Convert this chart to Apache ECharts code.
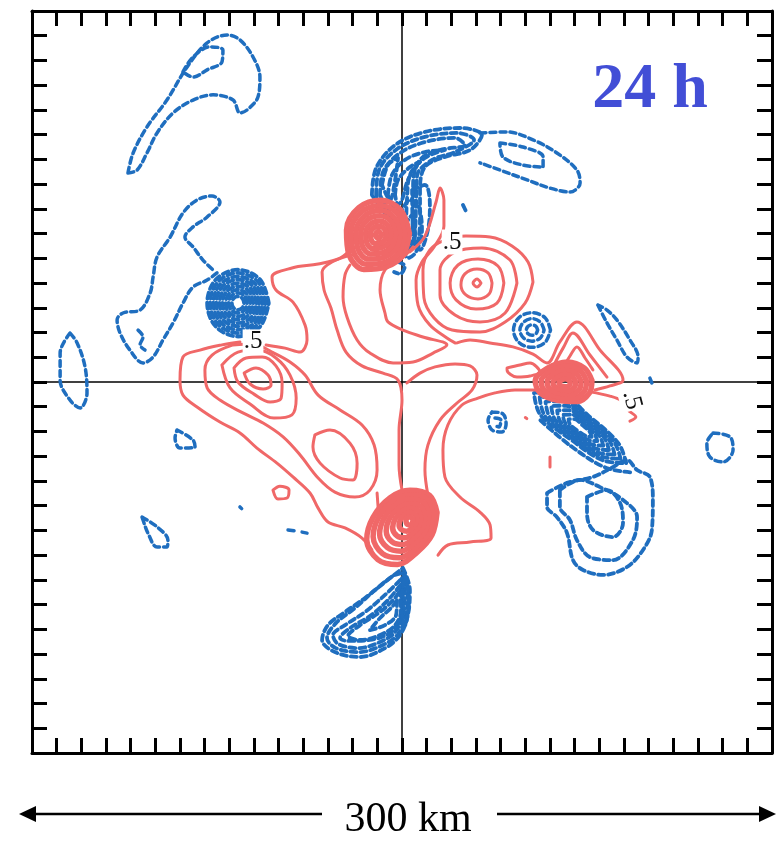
<!DOCTYPE html>
<html><head><meta charset="utf-8">
<script src="https://cdn.jsdelivr.net/npm/echarts@6/dist/echarts.min.js"></script>
<style>html,body{margin:0;padding:0;background:#fff}#c{width:778px;height:841px}</style>
</head><body><div id="c"></div>
<script>
// ---- axis ----
const axisMin = -150, axisMax = 150, tickStep = 10; // km
// ---- contour labels (km, rotation deg) ----
const labelPoints = [[-60.4,16.2,0],[20.3,56.6,0],[93.2,-7.3,-75]];
// ---- positive (red, solid) contours, km ----
const redLeftOuter = [[-65.7,16.2],[-73.0,15.0],[-81.9,12.9],[-88.8,10.1],[-90.0,0.8],[-88.8,-5.3],[-83.1,-10.1],[-73.8,-16.2],[-65.7,-20.6],[-58.8,-26.7],[-50.7,-32.8],[-44.2,-38.4],[-37.3,-44.9],[-34.0,-51.0],[-30.0,-56.6],[-23.1,-59.0],[-16.2,-63.1],[-12.2,-67.9]];
const redTongue = [[-55.1,15.0],[-47.4,13.7],[-41.3,12.1],[-38.5,17.0],[-39.3,23.0],[-44.2,32.3],[-51.1,37.2],[-52.7,42.5],[-44.6,46.1],[-34.0,47.7],[-25.1,50.1],[-20.3,54.2]];
const redLeftRings = [
 [[-68.5,15.0],[-77.0,10.9],[-79.9,4.9],[-79.0,-2.4],[-73.8,-7.3],[-64.5,-12.5],[-56.3,-16.6],[-48.2,-22.2],[-41.3,-29.5],[-34.0,-38.8],[-27.2,-44.5],[-19.1,-46.5],[-13.0,-43.7],[-10.1,-35.6],[-11.3,-25.5],[-16.2,-17.4],[-25.1,-11.3],[-34.0,-5.3],[-39.3,2.8],[-45.4,8.1],[-52.7,12.1],[-60.4,15.4],[-68.5,15.0]],
 [[-73.0,6.9],[-66.5,12.1],[-58.4,12.9],[-51.1,9.7],[-45.4,2.8],[-42.9,-6.5],[-44.6,-13.3],[-51.9,-14.6],[-61.6,-8.9],[-69.7,-2.4],[-73.0,6.9]],
 [[-68.1,5.7],[-63.2,9.7],[-56.7,10.1],[-51.1,6.5],[-48.6,-0.4],[-49.0,-6.5],[-53.5,-8.1],[-60.0,-4.9],[-66.5,0],[-68.1,5.7]],
 [[-64.0,3.6],[-59.2,5.7],[-54.3,2.8],[-53.1,-1.2],[-56.3,-2.8],[-61.6,-0.8],[-64.0,3.6]],
 [[-35.3,-21.4],[-29.2,-19.4],[-21.1,-24.7],[-18.2,-32.8],[-19.9,-39.6],[-25.1,-38.8],[-33.2,-32.8],[-36.1,-26.3],[-35.3,-21.4]],
 [[-52.3,-43.7],[-49.5,-42.1],[-45.8,-43.7],[-46.6,-46.9],[-50.3,-47.3],[-52.3,-43.7]]
];
const redCentre = [
 [[-21.1,47.3],[-23.1,43.3],[-23.9,34.4],[-22.3,26.3],[-18.2,17.0],[-13.0,11.7],[-3.6,7.7],[4.5,8.1],[12.6,11.7],[18.2,15.0],[8.5,18.2],[0.4,21.0],[-5.7,24.3],[-6.9,27.9],[-8.9,37.2],[-6.9,45.3],[-0.8,49.3],[4.5,54.6]],
 [[-20.3,51.4],[-28.4,48.5],[-32.4,44.5],[-31.6,37.2],[-28.8,29.9],[-26.3,21.0],[-22.7,12.1],[-16.2,6.5],[-7.7,3.6],[-1.6,0.8],[0,-7.3],[-1.2,-19.4],[-1.2,-33.6],[0,-43.7]],
 [[3.2,52.6],[9.3,59.0],[13.8,72.8],[15.4,78.4],[17.0,73.6],[17.0,63.1],[13.0,54.6],[8.1,48.5],[5.7,41.2],[6.5,31.1],[11.3,23.0],[18.2,17.8],[21.5,15.8]],
 [[2.0,-0.4],[7.3,3.6],[13.4,6.1],[21.5,7.3],[27.6,6.5],[30.4,2.8],[28.4,-3.2],[22.3,-8.5],[15.4,-15.4],[10.5,-25.5],[9.3,-35.6],[10.5,-45.7]],
 [[58.0,-3.2],[45.8,-3.2],[37.7,-4.4],[30.8,-6.5],[24.3,-9.3],[18.6,-17.4],[16.6,-27.5],[17.4,-38.4],[23.5,-46.5],[31.6,-52.6],[35.7,-57.8],[36.1,-63.1],[27.6,-64.7],[18.6,-65.9],[14.6,-70.0]],
 [[-10.1,-44.9],[-9.7,-50.5]]
];
const redRightMax = [
 [[32.0,40.0],[30.4,41.6],[28.8,40.0],[30.4,38.4],[32.0,40.0]],
 [[36.5,40.0],[34.9,44.1],[30.4,45.7],[25.5,43.7],[23.9,39.2],[25.9,35.2],[30.8,33.6],[35.3,35.6],[36.5,40.0]],
 [[41.3,40.0],[38.9,46.9],[30.8,49.7],[22.7,47.3],[19.5,40.0],[21.9,33.2],[30.0,29.5],[38.5,31.9],[41.3,40.0]],
 [[46.6,40.0],[43.8,49.3],[32.4,54.2],[21.5,52.6],[15.4,45.3],[15.4,35.2],[21.5,27.1],[31.6,24.3],[41.8,27.9],[46.6,40.0]],
 [[53.1,40.4],[51.1,48.5],[44.6,55.0],[35.7,58.6],[25.9,59.0],[17.4,57.4],[11.3,53.4],[8.5,45.3],[8.9,34.0],[13.0,25.9],[20.3,21.0],[31.6,20.2],[41.8,24.3],[49.9,31.9],[53.1,40.4]]
];
const redRightArms = [
 [[22.3,15.8],[27.6,17.0],[35.7,15.8],[45.0,14.2],[53.1,11.3],[58.8,7.7],[64.0,16.2],[70.9,24.3],[80.3,12.9],[89.6,0.8],[84.3,-1.6],[78.2,-3.2]],
 [[61.2,6.1],[65.3,13.7],[69.3,19.8],[76.2,10.9],[83.1,2.0]],
 [[65.3,5.7],[68.1,10.5],[70.9,14.2],[74.2,9.7],[77.4,4.9]],
 [[76.2,-4.0],[84.3,-5.7],[89.2,-7.7],[91.6,-11.3],[94.8,-14.2],[92.4,-15.8]],
 [[42.6,5.7],[47.8,6.9],[51.9,7.7],[55.9,4.0],[51.9,2.4],[46.6,2.0],[42.6,4.9],[42.6,5.7]],
 [[50.0,-14.4],[50.6,-14.8]],
 [[60.0,-30.3],[60.0,-34.4]]
];
const redTopBlob = [
 [[3.0,60.0],[-0.5,69.5],[-8.5,73.5],[-17.5,70.5],[-22.5,61.5],[-21.5,51.5],[-15.5,45.5],[-6.5,46.5],[0.5,51.5],[3.0,60.0]],
 [[1.1,59.9],[-1.8,68.0],[-8.6,71.4],[-16.3,68.9],[-20.6,61.2],[-19.7,52.7],[-14.6,47.6],[-6.9,48.4],[-1.0,52.7],[1.1,59.9]],
 [[-0.7,59.9],[-3.2,66.5],[-8.8,69.3],[-15.1,67.2],[-18.6,60.9],[-17.9,53.9],[-13.7,49.7],[-7.4,50.4],[-2.5,53.9],[-0.7,59.9]],
 [[-2.6,59.8],[-4.5,65.0],[-8.9,67.2],[-13.9,65.6],[-16.7,60.6],[-16.1,55.1],[-12.8,51.8],[-7.8,52.3],[-4.0,55.1],[-2.6,59.8]],
 [[-4.5,59.7],[-5.9,63.5],[-9.1,65.1],[-12.7,63.9],[-14.7,60.3],[-14.3,56.3],[-11.9,53.9],[-8.3,54.3],[-5.5,56.3],[-4.5,59.7]],
 [[-6.4,59.6],[-7.2,62.0],[-9.2,63.0],[-11.5,62.3],[-12.8,60.0],[-12.5,57.5],[-11.0,56.0],[-8.7,56.2],[-7.0,57.5],[-6.4,59.6]],
 [[-8.3,59.5],[-9.5,61.0],[-10.8,59.5],[-9.5,58.0],[-8.3,59.5]]
];
const redBottomBlob = [
 [[14.2,-52.8],[11.2,-45.8],[3.2,-43.8],[-4.8,-46.8],[-11.8,-54.8],[-14.3,-63.8],[-9.8,-71.8],[-1.8,-73.8],[6.2,-68.8],[12.2,-61.8],[14.2,-52.8]],
 [[12.6,-53.3],[10.0,-47.3],[3.2,-45.6],[-3.6,-48.2],[-9.6,-55.0],[-11.7,-62.6],[-7.9,-69.4],[-1.1,-71.1],[5.8,-66.9],[10.9,-60.9],[12.6,-53.3]],
 [[10.9,-53.7],[8.8,-48.8],[3.2,-47.4],[-2.4,-49.5],[-7.3,-55.1],[-9.1,-61.4],[-5.9,-67.0],[-0.3,-68.4],[5.3,-64.9],[9.5,-60.0],[10.9,-53.7]],
 [[9.3,-54.2],[7.6,-50.3],[3.2,-49.2],[-1.2,-50.9],[-5.1,-55.3],[-6.4,-60.2],[-4.0,-64.6],[0.5,-65.7],[4.9,-63.0],[8.2,-59.1],[9.3,-54.2]],
 [[7.6,-54.6],[6.4,-51.8],[3.2,-51.0],[0,-52.2],[-2.8,-55.4],[-3.8,-59.0],[-2.0,-62.2],[1.2,-63.0],[4.4,-61.0],[6.8,-58.2],[7.6,-54.6]],
 [[6.0,-55.1],[5.2,-53.3],[3.2,-52.8],[1.2,-53.6],[-0.6,-55.6],[-1.2,-57.8],[-0.1,-59.8],[2.0,-60.3],[4.0,-59.1],[5.5,-57.3],[6.0,-55.1]],
 [[4.5,-55.5],[3.2,-54.5],[1.6,-55.6],[2.2,-57.6],[3.8,-57.8],[4.5,-55.5]]
];
const redRightBlob = [
 [[77,0.6],[74,5.6],[67,8.1],[59,5.6],[54,0.6],[56,-4.4],[63,-7.4],[71,-7.9],[76,-4.4],[77,0.6]],
 [[74.8,0.4],[72.4,4.4],[66.8,6.4],[60.4,4.4],[56.4,0.4],[58,-3.6],[63.6,-6.0],[70,-6.4],[74,-3.6],[74.8,0.4]],
 [[72.6,0.2],[70.8,3.2],[66.6,4.7],[61.8,3.2],[58.8,0.2],[60,-2.8],[64.2,-4.6],[69,-4.9],[72,-2.8],[72.6,0.2]],
 [[70.4,0],[69.2,2.0],[66.4,3.0],[63.2,2.0],[61.2,0],[62,-2.0],[64.8,-3.2],[68,-3.4],[70,-2.0],[70.4,0]],
 [[68.2,-0.2],[67.6,0.8],[66.2,1.3],[64.6,0.8],[63.6,-0.2],[64,-1.2],[65.4,-1.8],[67,-1.9],[68,-1.2],[68.2,-0.2]]
];
// ---- negative (blue, dashed) contours, km ----
const blueNorthWest = [
 [[-111.1,84.5],[-109.0,92.6],[-103.4,103.1],[-95.3,114.0],[-87.1,127.4],[-79.0,137.1],[-70.9,140.3],[-65.7,138.3],[-60.4,131.4],[-57.6,123.3],[-58.4,115.2],[-62.8,110.0],[-65.7,108.8],[-68.5,114.0],[-76.6,116.1],[-84.7,114.0],[-92.8,108.8],[-99.3,100.7],[-103.4,92.6],[-107.4,85.7],[-111.1,84.5]],
 [[-88.8,125.4],[-84.7,131.4],[-77.8,135.5],[-72.6,134.2],[-73.0,129.4],[-79.0,126.2],[-84.7,123.3],[-88.8,125.4]]
];
const blueNorthEast = [
 [[31.6,100.7],[42.6,101.1],[53.1,97.9],[62.8,92.6],[70.9,85.7],[72.2,80.5],[68.1,76.8],[60.0,78.4],[50.7,81.7],[39.7,85.7],[31.6,88.6]],
 [[39.7,96.6],[49.0,95.0],[57.2,91.0],[57.2,86.9],[49.0,87.7],[40.9,91.0],[39.7,96.6]]
];
const blueNorthCluster = [
 [[-12.2,75.6],[-10.5,86.5],[-2.8,95.8],[9.3,101.1],[23.5,102.7],[32.4,99.9],[27.6,93.8],[17.4,91.0],[9.3,86.9],[7.3,77.6],[7.3,65.5],[5.3,55.4],[1.2,57.4],[-4.9,65.5],[-12.2,75.6]],
 [[-10.5,75.6],[-9.3,85.7],[-2.0,94.2],[9.3,99.1],[22.3,100.7],[29.2,97.9],[21.5,93.0],[12.2,89.8],[6.1,83.3],[5.7,71.6],[5.3,61.5],[4.1,56.6],[0,60.7],[-5.7,67.9],[-10.5,75.6]],
 [[-8.9,75.6],[-7.7,84.9],[-0.8,92.6],[9.3,97.0],[21.5,98.7],[25.5,95.8],[15.4,93.8],[7.3,89.8],[4.5,79.7],[4.5,67.5],[3.2,59.4],[-0.8,63.5],[-5.7,69.5],[-8.9,75.6]],
 [[-5.7,75.6],[-4.1,83.7],[1.2,89.8],[9.3,93.0],[17.4,93.8],[9.3,90.6],[3.2,83.7],[2.0,73.6],[1.2,65.5],[-2.8,69.5],[-5.7,75.6]],
 [[-2.8,75.6],[-1.6,81.7],[3.2,86.9],[7.3,89.0],[2.4,81.7],[0,73.6],[-1.6,71.6],[-2.8,75.6]],
 [[-0.8,67.5],[3.2,73.6],[6.5,71.6],[8.1,61.5],[5.7,52.6],[2.4,50.1],[0,55.4],[-0.8,67.5]],
 [[1.2,63.5],[4.1,67.5],[5.3,59.4],[3.2,53.4],[1.2,63.5]],
 [[4.1,77.6],[9.3,79.7],[11.3,71.6],[10.5,61.5],[7.3,53.4],[4.5,59.4],[4.1,77.6]],
 [[-8.1,79.7],[-5.7,87.7],[-1.6,90.6],[-2.8,81.7],[-4.9,73.6],[-8.1,79.7]],
 [[-1.6,48.5],[1.2,46.9],[-0.8,43.7],[-3.2,44.5]],
 [[24.7,71.6],[26.3,68.3]]
];
const blueWest = [
 [[-75.0,44.1],[-79.0,41.2],[-84.7,38.4],[-88.8,31.9],[-92.8,23.9],[-96.9,17.0],[-100.9,10.1],[-105.0,7.7],[-110.3,12.9],[-114.3,19.8],[-115.5,25.1],[-113.1,27.9],[-106.2,29.1],[-102.1,36.0],[-100.9,42.5],[-99.3,50.5],[-94.0,58.6],[-88.8,68.3],[-83.1,73.6],[-77.0,75.2],[-73.8,72.8],[-79.0,66.7],[-84.7,62.7],[-88.0,58.6],[-84.7,54.6],[-80.7,49.3],[-76.6,45.3]],
 [[-107.0,21.0],[-105.0,18.2],[-106.2,15.0],[-104.2,12.9]],
 [[-134.6,19.8],[-138.6,11.7],[-138.6,0.8],[-134.6,-7.3],[-130.5,-10.5],[-127.7,-4.4],[-128.5,6.1],[-131.7,15.8],[-134.6,19.8]],
 [[-91.2,-19.4],[-84.7,-23.5],[-83.9,-26.3],[-90.0,-26.7],[-92.0,-22.6],[-91.2,-19.4]],
 [[-65.7,-50.5],[-65.0,-51.2]],
 [[-105.4,-54.6],[-99.3,-58.6],[-94.9,-63.9],[-95.3,-66.7],[-99.3,-66.7],[-103.0,-61.1],[-105.0,-55.8],[-105.4,-54.6]],
 [[-46.2,-59.8],[-43.0,-60.3]],
 [[-40.5,-60.7],[-38.5,-61.1]]
];
const blueWestCluster = [
 [[-54.0,31.9],[-57.5,41.4],[-66.5,45.4],[-75.5,41.4],[-79.0,31.9],[-75.5,22.4],[-66.5,18.4],[-57.5,22.4],[-54.0,31.9]],
 [[-55.3,31.9],[-58.4,40.5],[-66.5,44.1],[-74.6,40.5],[-77.8,31.9],[-74.6,23.4],[-66.5,19.8],[-58.4,23.4],[-55.3,31.9]],
 [[-56.5,31.9],[-59.3,39.5],[-66.5,42.7],[-73.7,39.5],[-76.5,31.9],[-73.7,24.3],[-66.5,21.1],[-59.3,24.3],[-56.5,31.9]],
 [[-57.8,31.9],[-60.2,38.6],[-66.5,41.4],[-72.8,38.6],[-75.3,31.9],[-72.8,25.3],[-66.5,22.5],[-60.2,25.3],[-57.8,31.9]],
 [[-59.0,31.9],[-61.1,37.6],[-66.5,40.0],[-71.9,37.6],[-74.0,31.9],[-71.9,26.2],[-66.5,23.8],[-61.1,26.2],[-59.0,31.9]],
 [[-60.3,31.9],[-62.0,36.7],[-66.5,38.7],[-71.0,36.7],[-72.8,31.9],[-71.0,27.2],[-66.5,25.2],[-62.0,27.2],[-60.3,31.9]],
 [[-61.5,31.9],[-62.9,35.7],[-66.5,37.3],[-70.1,35.7],[-71.5,31.9],[-70.1,28.1],[-66.5,26.5],[-62.9,28.1],[-61.5,31.9]],
 [[-62.8,31.9],[-63.8,34.8],[-66.5,36.0],[-69.2,34.8],[-70.3,31.9],[-69.2,29.1],[-66.5,27.9],[-63.8,29.1],[-62.8,31.9]],
 [[-64.0,31.9],[-64.7,33.8],[-66.5,34.6],[-68.3,33.8],[-69.0,31.9],[-68.3,30.0],[-66.5,29.2],[-64.7,30.0],[-64.0,31.9]]
];
const blueEast = [
 [[36.5,-12.1],[40.9,-12.9],[42.2,-17.0],[40.5,-20.2],[36.5,-19.4],[34.9,-15.4],[36.5,-12.1]],
 [[37.7,-14.6],[40.1,-15.4],[39.3,-18.2],[37.3,-17.4]],
 [[60.2,21.0],[58.0,26.0],[52.7,28.0],[47.4,26.0],[45.2,21.0],[47.4,16.0],[52.7,14.0],[58.0,16.0],[60.2,21.0]],
 [[57.6,21.0],[56.1,24.2],[52.7,25.6],[49.3,24.2],[47.8,21.0],[49.3,17.8],[52.7,16.5],[56.1,17.8],[57.6,21.0]],
 [[55.0,21.0],[54.3,22.5],[52.7,23.1],[51.1,22.5],[50.4,21.0],[51.1,19.5],[52.7,18.9],[54.3,19.5],[55.0,21.0]],
 [[79.4,31.1],[83.1,23.9],[87.1,17.0],[91.2,10.1],[95.3,7.7],[95.7,10.1],[92.4,17.0],[87.1,25.1],[83.1,29.1],[79.4,31.1]],
 [[100.5,1.6],[101.3,-0.4]],
 [[126.1,-20.6],[133.0,-22.2],[134.2,-27.5],[130.1,-32.3],[124.8,-30.3],[123.6,-24.7],[126.1,-20.6]]
];
const blueSouthEast = [
 [[90.9,-32.8],[87.7,-24.7],[75.8,-13.8],[63.1,-4.2],[53.5,-4.4],[56.1,-13.3],[68.6,-23.4],[82.2,-31.9],[90.9,-32.8]],
 [[88.6,-31.0],[85.8,-23.9],[75.4,-14.4],[64.2,-6.0],[55.8,-6.2],[58.1,-14.0],[69.0,-22.8],[81.0,-30.2],[88.6,-31.0]],
 [[86.2,-29.3],[83.8,-23.2],[74.9,-15.0],[65.4,-7.8],[58.2,-7.9],[60.1,-14.6],[69.5,-22.2],[79.7,-28.6],[86.2,-29.3]],
 [[83.9,-27.5],[81.9,-22.4],[74.5,-15.6],[66.5,-9.6],[60.5,-9.7],[62.1,-15.3],[70.0,-21.6],[78.5,-26.9],[83.9,-27.5]],
 [[81.6,-25.7],[80.0,-21.7],[74.0,-16.2],[67.7,-11.4],[62.9,-11.5],[64.2,-16.0],[70.4,-21.0],[77.2,-25.3],[81.6,-25.7]],
 [[79.2,-23.9],[78.0,-20.9],[73.6,-16.8],[68.8,-13.2],[65.2,-13.3],[66.2,-16.6],[70.9,-20.4],[76.0,-23.6],[79.2,-23.9]],
 [[76.9,-22.2],[76.1,-20.1],[73.1,-17.4],[69.9,-15.0],[67.5,-15.1],[68.2,-17.3],[71.3,-19.8],[74.7,-21.9],[76.9,-22.2]],
 [[56.1,-15.5],[68.6,-26.0],[82.2,-34.5],[92.5,-36.5]],
 [[58.8,-44.9],[66.9,-40.8],[77.4,-38.4],[85.5,-34.4],[91.2,-31.5],[95.3,-35.6],[100.5,-38.4],[101.7,-47.7],[101.3,-59.8],[97.7,-67.9],[91.2,-74.8],[81.5,-78.0],[73.4,-76.0],[69.3,-72.0],[66.9,-61.1],[62.8,-54.6],[58.8,-50.5],[58.8,-44.9]],
 [[64.0,-43.7],[72.2,-39.6],[80.3,-42.5],[89.6,-47.7],[95.3,-54.6],[93.6,-63.9],[85.5,-72.0],[76.2,-70.8],[70.9,-63.9],[68.1,-55.8],[64.0,-50.5],[64.0,-43.7]],
 [[75.0,-46.5],[83.1,-43.7],[88.4,-48.9],[89.6,-57.0],[85.5,-62.7],[77.4,-59.8],[75.0,-53.0],[75.0,-46.5]]
];
const blueSouth = [
 [[0.4,-75.2],[3.2,-84.1],[2.4,-94.2],[-0.8,-102.3],[-6.9,-107.6],[-17.0,-111.2],[-27.2,-109.2],[-32.4,-104.3],[-30.0,-98.3],[-23.1,-93.0],[-15.0,-87.3],[-6.9,-80.9],[0.4,-75.2]],
 [[0.4,-77.2],[2.4,-85.3],[1.6,-94.2],[-1.6,-101.9],[-7.7,-106.3],[-17.4,-109.2],[-26.8,-107.6],[-30.4,-103.5],[-26.8,-97.5],[-19.1,-91.4],[-10.9,-84.1],[-3.6,-78.4],[0.4,-77.2]],
 [[0,-79.3],[1.2,-86.1],[0.4,-94.2],[-2.8,-101.1],[-8.9,-105.1],[-17.8,-107.6],[-25.9,-105.9],[-28.0,-102.3],[-23.1,-98.3],[-15.0,-93.0],[-6.9,-86.1],[0,-79.3]],
 [[-0.4,-81.7],[0.4,-89.0],[-0.8,-96.2],[-4.9,-101.5],[-13.0,-104.3],[-21.9,-104.7],[-25.1,-103.5],[-21.1,-99.5],[-13.0,-94.6],[-5.7,-88.2],[-0.4,-81.7]],
 [[-0.8,-84.1],[-0.4,-92.2],[-2.8,-98.3],[-8.9,-102.3],[-17.0,-104.3],[-21.9,-102.7],[-17.0,-98.3],[-8.9,-93.0],[-2.8,-87.3],[-0.8,-84.1]],
 [[-2.0,-88.2],[-2.4,-94.2],[-6.9,-98.3],[-13.0,-100.3],[-8.9,-95.4],[-4.1,-91.0],[-2.0,-88.2]],
 [[1.2,-78.1],[2.8,-88.2],[1.2,-98.3],[-0.4,-90.1],[1.2,-78.1]]
];
const crossLines = [[[axisMin,0],[axisMax,0]],[[0,axisMin],[0,axisMax]]];

const RED = '#f06868', BLUE = '#1f6ebf';
function contour(data, color, dashed, width) {
  return {type:'line', data:data, smooth:0.35, symbol:'none', silent:true, animation:false,
    clip:true, z: dashed ? 2 : 3,
    lineStyle:{color:color, width:width, type: dashed ? [6,4] : 'solid', cap:'round', join:'round'}};
}
const series = [];
crossLines.forEach(d => series.push({type:'line', data:d, symbol:'none', silent:true, animation:false, z:1,
  lineStyle:{color:'#000', width:1.5}}));
[blueNorthWest, blueNorthEast, blueWest, blueEast]
  .forEach(g => g.forEach(d => series.push(contour(d, BLUE, true, 3.5))));
[blueNorthCluster, blueWestCluster, blueSouthEast, blueSouth]
  .forEach(g => g.forEach(d => series.push(contour(d, BLUE, true, 3.8))));
[redLeftOuter, redTongue].forEach(d => series.push(contour(d, RED, false, 3)));
[redLeftRings, redCentre, redRightMax, redRightArms].forEach(g => g.forEach(d => series.push(contour(d, RED, false, 3))));
[redTopBlob, redBottomBlob, redRightBlob].forEach(g => g.forEach(d => series.push(contour(d, RED, false, 5.5))));

function axis(pos) {
  return {type:'value', position:pos, min:axisMin, max:axisMax, interval:tickStep,
    axisLine:{show:true, onZero:false, lineStyle:{color:'#000', width:3}},
    axisTick:{show:true, inside:true, length:15, lineStyle:{color:'#000', width:3}},
    axisLabel:{show:false}, splitLine:{show:false}};
}
const chart = echarts.init(document.getElementById('c'), null, {renderer:'canvas'});
const staticGraphics = [
  {type:'line', shape:{x1:34,y1:814,x2:322,y2:814}, style:{stroke:'#000', lineWidth:2.5}},
  {type:'polygon', shape:{points:[[19,814],[36,806],[36,822]]}, style:{fill:'#000'}},
  {type:'line', shape:{x1:497,y1:814,x2:760,y2:814}, style:{stroke:'#000', lineWidth:2.5}},
  {type:'polygon', shape:{points:[[776,814],[759,806],[759,822]]}, style:{fill:'#000'}},
  {type:'text', x:408, y:820, style:{text:'300 km', font:'42px "Liberation Serif", "Times New Roman", serif', fill:'#000', align:'center', verticalAlign:'middle'}},
  {type:'text', x:650, y:90, style:{text:'24 h', font:'bold 64px "Liberation Serif", "Times New Roman", serif', fill:'#424ed6', align:'center', verticalAlign:'middle'}}
];
chart.setOption({
  animation:false, backgroundColor:'#fff',
  grid:{left:32, right:6, top:11, bottom:88},
  xAxis:[axis('bottom'), axis('top')],
  yAxis:[axis('left'), axis('right')],
  series: series,
  graphic: staticGraphics
});
// contour labels positioned through the axes' own scales
const labelGraphics = labelPoints.map(p => {
  const px = chart.convertToPixel({xAxisIndex:0, yAxisIndex:0}, [p[0], p[1]]);
  return {type:'text', x:px[0], y:px[1], rotation:p[2]*Math.PI/180, z:100,
    style:{text:'.5', font:'25px "Liberation Serif", "Times New Roman", serif', fill:'#111',
      align:'center', verticalAlign:'middle', backgroundColor:'#fff', padding:[0,1]}};
});
chart.setOption({graphic: staticGraphics.concat(labelGraphics)});
</script></body></html>
